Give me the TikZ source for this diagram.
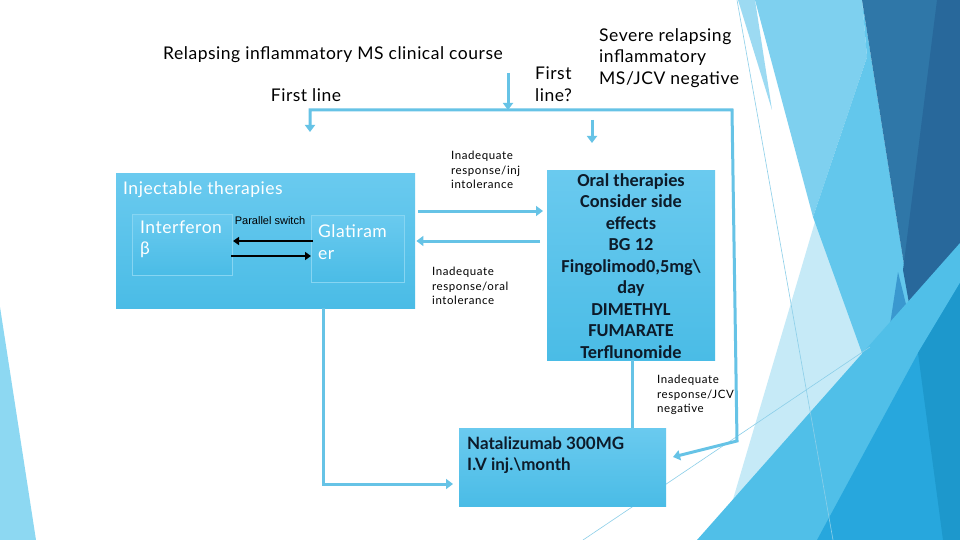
\documentclass[tikz,border=0pt]{standalone}
\usepackage{fontspec}
\setmainfont{Lato}
\newfontfamily\bigf[LetterSpace=3]{Lato}
\newfontfamily\smallf[LetterSpace=5]{Lato}
\newfontfamily\calib{Carlito}
\newfontfamily\arialf{Liberation Sans}
\usetikzlibrary{arrows.meta}
\definecolor{conn}{HTML}{66C3E6}
\definecolor{boxtop}{HTML}{6ACAEF}
\definecolor{boxbot}{HTML}{4ABCE6}
\definecolor{inborder}{HTML}{86D5F2}
\definecolor{darktxt}{HTML}{0D1B2A}
\definecolor{bgleft}{HTML}{8DD8F2}
\definecolor{bgvlight}{HTML}{C6EAF7}
\definecolor{bglight}{HTML}{7ED0EF}
\definecolor{bgstrip}{HTML}{9CDAF2}
\definecolor{bgmed}{HTML}{63C7EC}
\definecolor{bgdarkA}{HTML}{2F77A8}
\definecolor{bgdarkB}{HTML}{28689B}
\definecolor{bgbottom}{HTML}{50BFE8}
\definecolor{bgmid}{HTML}{27A7DD}
\definecolor{bgdeep}{HTML}{1D98CC}
\definecolor{bgtri}{HTML}{3A98CF}
\definecolor{bgline}{HTML}{8CCFE9}
\tikzset{
  connline/.style={draw=conn, line width=3pt},
  ctip/.style={-{Triangle[width=10pt,length=7pt]}},
  bigbox/.style={top color=boxtop, bottom color=boxbot, draw=none, inner sep=0pt},
  inbox/.style={top color=boxtop, bottom color=boxbot, draw=inborder, line width=1pt, inner sep=0pt},
  blkarrow/.style={draw=black, line width=2pt, -{Triangle[width=8pt,length=6pt]}},
  bigtxt/.style={font=\bigf\fontsize{17.5}{21.5}\selectfont, inner sep=0pt},
  smalltxt/.style={font=\smallf\fontsize{11.5}{14.5}\selectfont, align=left, inner sep=0pt, anchor=west},
}
\begin{document}
\begin{tikzpicture}[x=1pt,y=-1pt]
\useasboundingbox (0,0) rectangle (960,540);
\fill[white] (0,0) rectangle (960,540);
% ---- background facets ----
\fill[bgleft] (0,307) -- (36,540) -- (0,540) -- cycle;
\fill[bgvlight] (817,215) -- (878,400) -- (740,540) -- (721,540) -- cycle;
\fill[bgstrip] (738,0) -- (755,0) -- (772,110) -- cycle;
\fill[bglight] (755,0) -- (862,0) -- (867,57) -- (813,217) -- cycle;
\fill[bgmed] (867,57) -- (862,0) -- (905,270) -- (918,353) -- (877,430) -- (862,353) -- (813,217) -- cycle;
\fill[bgdarkA] (862,0) -- (960,0) -- (960,283) -- (918,353) -- cycle;
\fill[bgdarkB] (937,0) -- (960,0) -- (960,283) -- (918,353) -- (903,270) -- cycle;
\fill[bgtri] (898,272) -- (918,353) -- (874,430) -- cycle;
\fill[bgbottom] (697,540) -- (960,243) -- (960,540) -- cycle;
\fill[bgmid] (817,540) -- (918,353) -- (960,283) -- (960,540) -- cycle;
\fill[bgdeep] (918,353) -- (960,283) -- (960,540) -- (943,540) -- cycle;
\draw[bgline, line width=0.6pt] (737,0) -- (833,540);
\draw[bgline, line width=0.6pt] (583,540) -- (870,347);

% ---- headings ----
\node[bigtxt] (title) at (333,55) {Relapsing inflammatory MS clinical course};
\node[bigtxt] (firstline) at (306,95) {First line};
\node[bigtxt, align=left, anchor=west] (firstq) at (535,84) {First\\line?};
\node[bigtxt, align=left, anchor=west] (severe) at (599,58) {Severe relapsing\\inflammatory\\MS/JCV negative};

% ---- boxes ----
\node[bigbox, minimum width=299pt, minimum height=135pt, anchor=north west] (inj) at (116,173) {};
\node[bigtxt, text=white, anchor=west] (injlbl) at (123,190) {Injectable therapies};
\node[inbox, minimum width=100pt, minimum height=61pt, anchor=north west] (ifn) at (132,214) {};
\node[bigtxt, text=white, align=left, anchor=west] (ifntxt) at (140,239) {Interferon\\β};
\node[inbox, minimum width=93pt, minimum height=67pt, anchor=north west] (glat) at (311,215) {};
\node[bigtxt, text=white, align=left, anchor=west] (glattxt) at (318,242) {Glatiram\\er};
\node[font=\arialf\fontsize{11}{13}\selectfont, inner sep=0pt] (pswitch) at (270,221) {Parallel switch};

\node[bigbox, minimum width=168pt, minimum height=190pt, anchor=north west] (oral) at (547,170) {};
\node[font=\calib\bfseries\fontsize{18.3}{21.5}\selectfont, text=darktxt, align=center, inner sep=0pt] (oraltxt) at (631,266)
  {Oral therapies\\Consider side\\effects\\BG 12\\Fingolimod0,5mg\textbackslash\\day\\DIMETHYL\\FUMARATE\\Terflunomide};

\node[bigbox, minimum width=207pt, minimum height=78pt, anchor=north west] (nat) at (459,428) {};
\node[bigtxt, font=\bfseries\fontsize{17}{21.5}\selectfont, text=darktxt, align=left, anchor=west] (nattxt) at (467,455)
  {Natalizumab 300MG\\I.V inj.\textbackslash month};

% ---- small labels ----
\node[smalltxt] (lblinj) at (451,170) {Inadequate\\response/inj\\intolerance};
\node[smalltxt] (lbloral) at (432,286) {Inadequate\\response/oral\\intolerance};
\node[smalltxt] (lbljcv) at (657,395) {Inadequate\\response/JCV\\negative};

% ---- connector coordinates ----
\coordinate (fq1) at (508,73);
\coordinate (fq2) at (508,110);
\coordinate (b1e) at (310,132);
\coordinate (b1) at (310,110);
\coordinate (b2) at (732,110);
\coordinate (b3) at (737,441);
\coordinate (b4) at (673,457);
\coordinate (s1) at (592,120);
\coordinate (s2) at (592,143);
\coordinate (r1) at (0,211);
\coordinate (l1) at (0,241);
\coordinate (v1) at (632,0);
\coordinate (v2) at (323,0);
\coordinate (h3) at (0,484);
\coordinate (k1) at (0,241);
\coordinate (k2) at (0,256);

% ---- connectors ----
\draw[connline, ctip] (fq1) -- (fq2);
\draw[connline, {Triangle[width=10pt,length=7pt]}-{Triangle[width=10pt,length=7pt]}] (b1e) -- (b1) -- (b2) -- (b3) -- (b4);
\draw[connline, ctip] (s1) -- (s2);
\draw[connline, ctip, shorten <=3pt, shorten >=4pt] (inj.east |- r1) -- (oral.west |- r1);
\draw[connline, ctip, shorten <=7pt, shorten >=1pt] (oral.west |- l1) -- (inj.east |- l1);
\draw[connline] (oral.south -| v1) -- (nat.north -| v1);
\draw[connline, ctip, shorten >=6pt] (inj.south -| v2) -- (v2 |- h3) -- (nat.west |- h3);
\draw[blkarrow, shorten <=-2pt] (glat.west |- k1) -- (ifn.east |- k1);
\draw[blkarrow, shorten <=-2pt] (ifn.east |- k2) -- (glat.west |- k2);
\end{tikzpicture}
\end{document}
